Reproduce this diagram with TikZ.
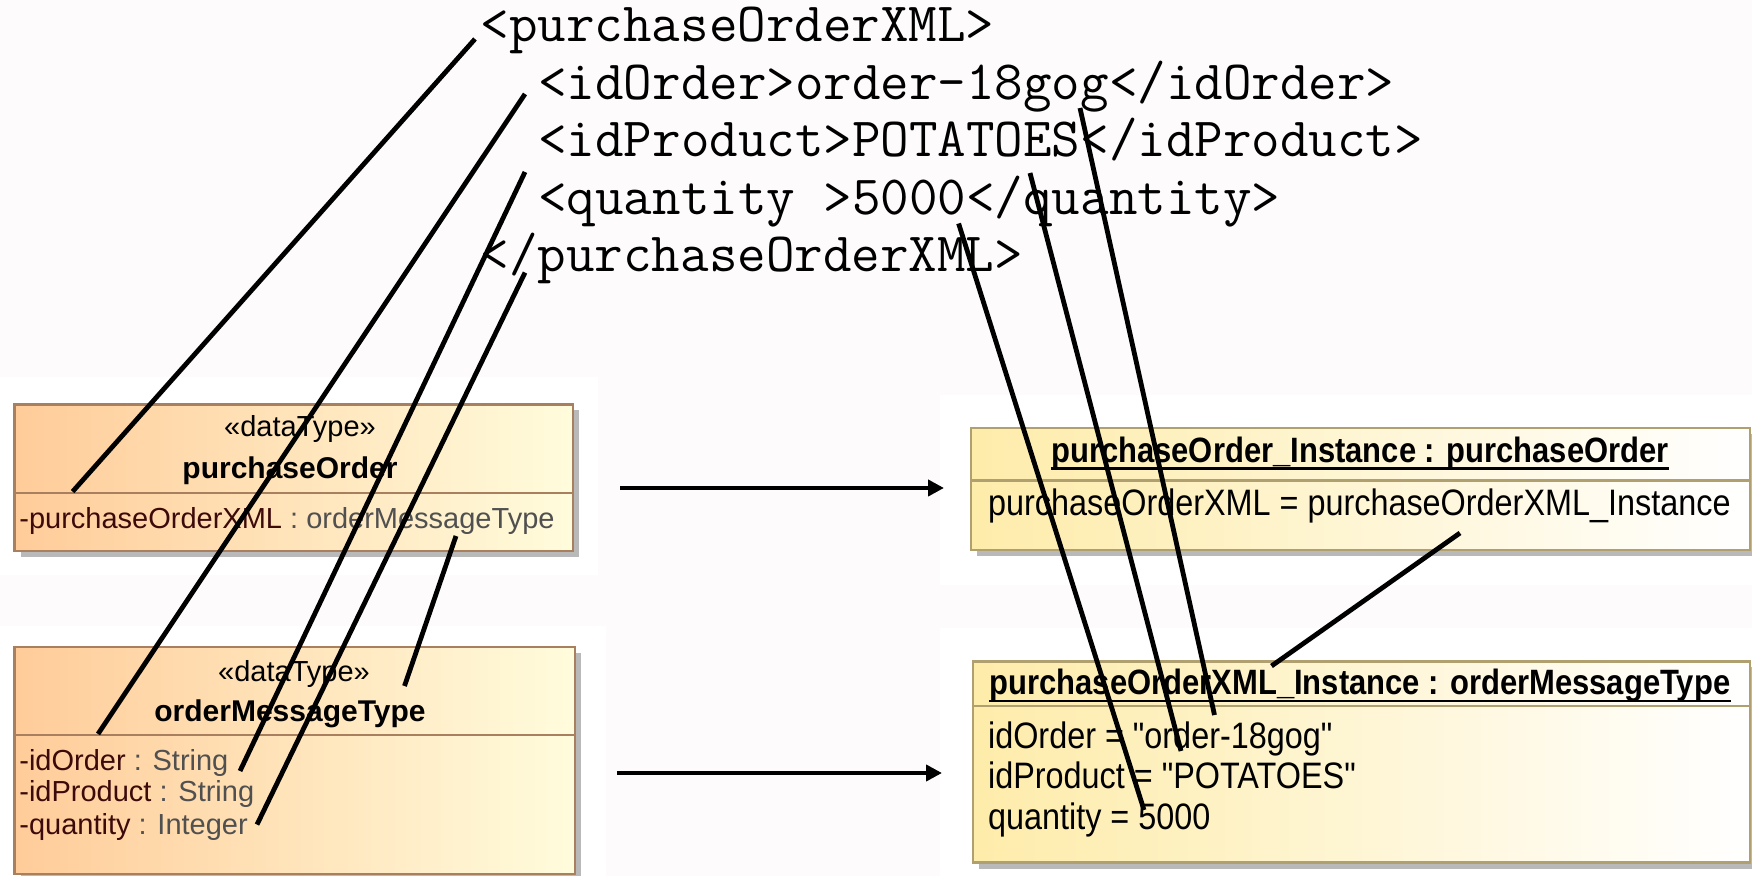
\documentclass[tikz,border=0pt]{standalone}
\usepackage{fontspec}
\newfontfamily\umlfont{Liberation Sans}
\newfontfamily\umlnarrow[FakeStretch=0.88]{Liberation Sans}
\usetikzlibrary{fit,calc,arrows.meta}
\definecolor{bgpink}{RGB}{253,251,251}
\definecolor{peach}{RGB}{255,204,153}
\definecolor{lightyel}{RGB}{255,252,220}
\definecolor{instyel}{RGB}{254,236,170}
\definecolor{classborder}{RGB}{168,128,96}
\definecolor{instborder}{RGB}{176,160,112}
\definecolor{shadowgray}{RGB}{185,185,185}
\definecolor{attrname}{RGB}{60,10,10}
\definecolor{attrtype}{RGB}{80,80,80}
\tikzset{
  classbox/.style={draw=classborder, line width=1.2pt, left color=peach, right color=lightyel, inner sep=0pt},
  instbox/.style={draw=instborder, line width=1.2pt, left color=instyel, right color=white, inner sep=0pt},
  classdiv/.style={draw=classborder, line width=1.2pt},
  instdiv/.style={draw=instborder, line width=1.2pt},
  shadowbox/.style={fill=shadowgray},
  xmlline/.style={anchor=base west, inner sep=0pt, font=\ttfamily\fontsize{27.7}{30}\selectfont},
  umlsmall/.style={anchor=base, inner sep=0pt, font=\umlfont\fontsize{14.5}{17}\selectfont},
  umltitle/.style={anchor=base, inner sep=0pt, font=\umlfont\bfseries\fontsize{15}{18}\selectfont},
  umlattr/.style={anchor=base west, inner sep=0pt, font=\umlfont\fontsize{14.5}{17}\selectfont},
  insttitle/.style={anchor=base, inner sep=0pt, font=\umlnarrow\bfseries\fontsize{17.6}{20}\selectfont},
  instattr/.style={anchor=base west, inner sep=0pt, font=\umlnarrow\fontsize{18.4}{21}\selectfont},
  link/.style={line width=2.4pt, black},
  arr/.style={line width=2.4pt, black, -{Triangle[length=8pt,width=8pt]}},
}
\begin{document}
\begin{tikzpicture}[x=0.5pt,y=-0.5pt]
\useasboundingbox (0,0) rectangle (1752,876);
\fill[bgpink] (0,0) rectangle (1752,876);
\fill[white] (0,377) rectangle (598,575);
\fill[white] (0,626) rectangle (606,876);
\fill[white] (940,395) rectangle (1752,585);
\fill[white] (940,628) rectangle (1752,876);

% XML text
\node[xmlline] (x1) at (480.4,42) {<purchaseOrderXML>};
\node[xmlline] (x2) at (538,99.5) {<idOrder>order-18gog</idOrder>};
\node[xmlline] (x3) at (538,157) {<idProduct>POTATOES</idProduct>};
\node[xmlline] (x4) at (538,214.5) {<quantity >5000</quantity>};
\node[xmlline] (x5) at (480.4,272) {</purchaseOrderXML>};

% corner coordinates
\coordinate (b1nw) at (14.5,404.5); \coordinate (b1se) at (573,551);
\coordinate (b2nw) at (14.5,647);   \coordinate (b2se) at (575,874);
\coordinate (b3nw) at (971,428);    \coordinate (b3se) at (1750,550);
\coordinate (b4nw) at (973,661.5);  \coordinate (b4se) at (1750,862.5);

% shadows
\fill[shadowbox] ($(b1nw)+(6,6)$) rectangle ($(b1se)+(6,6)$);
\fill[shadowbox] ($(b2nw)+(6,6)$) rectangle ($(b2se)+(6,6)$);
\fill[shadowbox] ($(b3nw)+(6,6)$) rectangle ($(b3se)+(6,6)$);
\fill[shadowbox] ($(b4nw)+(6,6)$) rectangle ($(b4se)+(6,6)$);

% boxes
\node[classbox, fit=(b1nw)(b1se)] (b1) {};
\node[classbox, fit=(b2nw)(b2se)] (b2) {};
\node[instbox, fit=(b3nw)(b3se)] (b3) {};
\node[instbox, fit=(b4nw)(b4se)] (b4) {};

% dividers
\coordinate (d1) at (0,493);
\coordinate (d2) at (0,735);
\coordinate (d3) at (0,480.5);
\coordinate (d4) at (0,706);
\draw[classdiv] (b1.west |- d1) -- (b1.east |- d1);
\draw[classdiv] (b2.west |- d2) -- (b2.east |- d2);
\draw[instdiv] (b3.west |- d3) -- (b3.east |- d3);
\draw[instdiv] (b4.west |- d4) -- (b4.east |- d4);

% box 1 texts
\node[umlsmall] (s1) at (300,437) {«dataType»};
\node[umltitle] (t1) at (290,479) {purchaseOrder};
\node[umlattr] (a1) at (19,528.5) {\textcolor{attrname}{-purchaseOrderXML} \textcolor{attrtype}{: orderMessageType}};

% box 2 texts
\node[umlsmall] (s2) at (294,681.5) {«dataType»};
\node[umltitle] (t2) at (290,722) {orderMessageType};
\node[umlattr] (a21) at (19,770) {\textcolor{attrname}{-idOrder} \textcolor{attrtype}{: String}};
\node[umlattr] (a22) at (19,802) {\textcolor{attrname}{-idProduct} \textcolor{attrtype}{: String}};
\node[umlattr] (a23) at (19,834.6) {\textcolor{attrname}{-quantity} \textcolor{attrtype}{: Integer}};

% box 3 texts
\node[insttitle] (t3) at (1360,462.5) {purchaseOrder\_Instance : purchaseOrder};
\draw[line width=1.3pt] ($(t3.base west)+(0,6)$) -- ($(t3.base east)+(0,6)$);
\node[instattr] (a3) at (987.7,516) {purchaseOrderXML = purchaseOrderXML\_Instance};

% box 4 texts
\node[insttitle] (t4) at (1360,695) {purchaseOrderXML\_Instance : orderMessageType};
\draw[line width=1.3pt] ($(t4.base west)+(0,6)$) -- ($(t4.base east)+(0,6)$);
\node[instattr] (a41) at (987.7,748.6) {idOrder = "order-18gog"};
\node[instattr] (a42) at (987.7,788.8) {idProduct = "POTATOES"};
\node[instattr] (a43) at (987.7,829) {quantity = 5000};

% arrows
\coordinate (r1s) at (620,488); \coordinate (r1e) at (944,488);
\coordinate (r2s) at (617,773); \coordinate (r2e) at (942,773);
\draw[arr] (r1s) -- (r1e);
\draw[arr] (r2s) -- (r2e);

% connector end points
\coordinate (c1a) at (475,39);     \coordinate (c1b) at (72.6,491.6);
\coordinate (c2a) at (525,94);     \coordinate (c2b) at (98,734);
\coordinate (c3a) at (525,172);    \coordinate (c3b) at (240,771);
\coordinate (c4a) at (525,272.6);  \coordinate (c4b) at (257,824.6);
\coordinate (c5a) at (456,536);    \coordinate (c5b) at (404.5,686);
\coordinate (c6a) at (958.6,223.5);\coordinate (c6b) at (1144,810);
\coordinate (c7a) at (1030,173);   \coordinate (c7b) at (1181,751);
\coordinate (c8a) at (1080,108);   \coordinate (c8b) at (1214.5,715);
\coordinate (c9a) at (1460,533);   \coordinate (c9b) at (1271.5,666);

\draw[link] (c1a) -- (c1b);
\draw[link] (c2a) -- (c2b);
\draw[link] (c3a) -- (c3b);
\draw[link] (c4a) -- (c4b);
\draw[link] (c5a) -- (c5b);
\draw[link] (c6a) -- (c6b);
\draw[link] (c7a) -- (c7b);
\draw[link] (c8a) -- (c8b);
\draw[link] (c9a) -- (c9b);
\end{tikzpicture}
\end{document}
